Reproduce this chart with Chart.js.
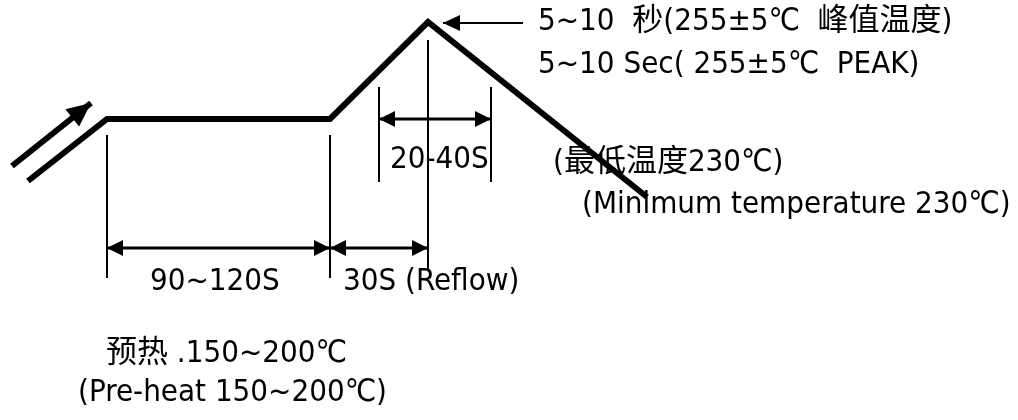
<!DOCTYPE html>
<html>
<head>
<meta charset="utf-8">
<script src="https://cdn.jsdelivr.net/npm/chart.js@4"></script>
<style>
  html, body { margin: 0; padding: 0; background: #fff; }
  #perfil { display: block; }
</style>
</head>
<body>
<canvas id="perfil" width="1018" height="420"></canvas>
<script>
// diagram units: x to the right, y downwards (schematic, no real axes)
const perfilX = [28, 107, 330, 428, 647]
const perfilY = [181, 119, 119, 22, 197]

const setaEntradaX = [12, 91]
const setaEntradaY = [166, 103]

// vertical guide lines: x, top, bottom
const guiasX = [107, 330, 428, 379, 491]
const guiasTopo = [135, 135, 40, 87, 87]
const guiasBase = [278, 278, 270, 182, 182]

// dimension arrows: start x, end x, y
const cotasInicio = [107, 330, 379]
const cotasFim = [330, 428, 491]
const cotasY = [248, 248, 119]

// leader to the peak
const picoX = [523, 443]
const picoY = [23, 23]

const textos = [
  '5~10  秒(255±5℃  峰值温度)',
  '5~10 Sec( 255±5℃  PEAK)',
  '(最低温度230℃)',
  '(Minimum temperature 230℃)',
  '20-40S',
  '90~120S',
  '30S (Reflow)',
  '预热 .150~200℃',
  '(Pre-heat 150~200℃)'
]
const textosX = [538, 538, 553, 582, 390, 150, 343, 106, 78]
const textosY = [22, 65, 163, 205, 160, 282, 282, 354, 393]

function pontos(xs, ys) {
  return xs.map((x, i) => ({ x: x, y: ys[i] }))
}

const datasets = []

datasets.push({ data: pontos(perfilX, perfilY), borderWidth: 6, borderJoinStyle: 'miter' })
datasets.push({ data: pontos(setaEntradaX, setaEntradaY), borderWidth: 6, seta: 'fim', cabeca: [24, 11] })

guiasX.forEach((x, i) => {
  datasets.push({ data: pontos([x, x], [guiasTopo[i], guiasBase[i]]), borderWidth: 2 })
})

cotasInicio.forEach((x, i) => {
  datasets.push({ data: pontos([x, cotasFim[i]], [cotasY[i], cotasY[i]]), borderWidth: 3, seta: 'ambas', cabeca: [16, 8] })
})

datasets.push({ data: pontos(picoX, picoY), borderWidth: 2, seta: 'fim', cabeca: [17, 8] })

datasets.forEach((d) => {
  d.showLine = true
  d.borderColor = '#000'
  d.pointRadius = 0
  d.fill = false
})

function desenhaCabeca(ctx, de, para, tam) {
  let ang = Math.atan2(para.y - de.y, para.x - de.x)
  ctx.save()
  ctx.translate(para.x, para.y)
  ctx.rotate(ang)
  ctx.beginPath()
  ctx.moveTo(0, 0)
  ctx.lineTo(-tam[0], -tam[1])
  ctx.lineTo(-tam[0], tam[1])
  ctx.closePath()
  ctx.fill()
  ctx.restore()
}

const pluginSetas = {
  id: 'setas',
  afterDatasetsDraw(chart) {
    const ctx = chart.ctx
    ctx.fillStyle = '#000'
    chart.data.datasets.forEach((d, i) => {
      if (!d.seta) return
      const pts = chart.getDatasetMeta(i).data
      const a = pts[0], b = pts[pts.length - 1]
      desenhaCabeca(ctx, a, b, d.cabeca)
      if (d.seta === 'ambas') desenhaCabeca(ctx, b, a, d.cabeca)
    })
  }
}

const pluginTextos = {
  id: 'textos',
  afterDraw(chart) {
    const ctx = chart.ctx
    const sx = chart.scales.x, sy = chart.scales.y
    ctx.save()
    ctx.fillStyle = '#000'
    ctx.textBaseline = 'middle'
    ctx.textAlign = 'left'
    ctx.font = '31px "DejaVu Sans Condensed", "Noto Sans CJK SC", sans-serif'
    textos.forEach((t, i) => {
      ctx.fillText(t, sx.getPixelForValue(textosX[i]), sy.getPixelForValue(textosY[i]))
    })
    ctx.restore()
  }
}

const graficoPerfil = new Chart(document.querySelector('#perfil'), {
  type: 'scatter',
  data: { datasets: datasets },
  options: {
    responsive: false,
    animation: false,
    devicePixelRatio: 1,
    layout: { padding: 0 },
    plugins: { legend: { display: false }, tooltip: { enabled: false } },
    scales: {
      x: { type: 'linear', min: 0, max: 1018, display: false },
      y: { type: 'linear', min: 0, max: 420, reverse: true, display: false }
    }
  },
  plugins: [pluginSetas, pluginTextos]
})
</script>
</body>
</html>
